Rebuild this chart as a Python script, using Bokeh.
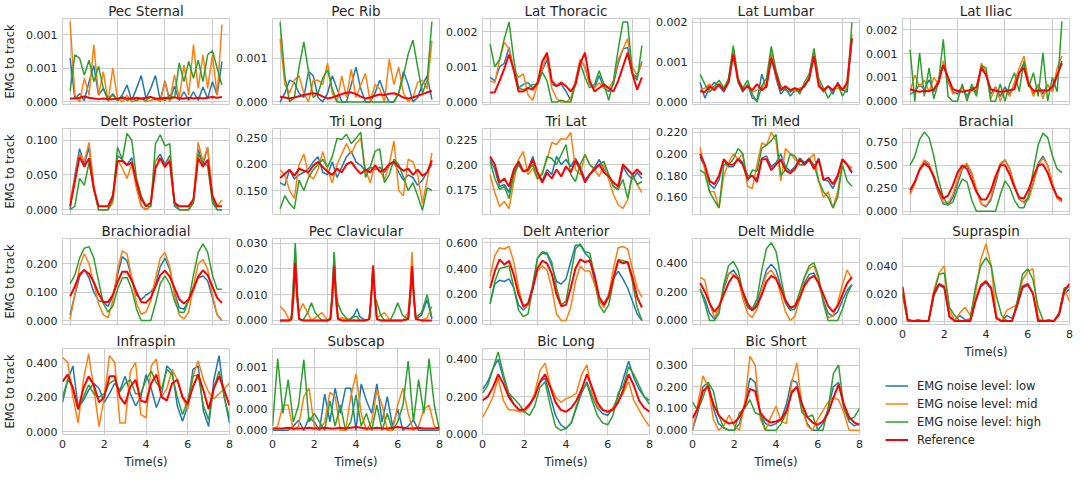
import numpy as np
from bokeh.plotting import figure
from bokeh.models import Range1d, FixedTicker, PrintfTickFormatter, Legend, LegendItem
from bokeh.layouts import row, column
from bokeh.embed import file_html
from bokeh.resources import INLINE

# ---------------- data ----------------
T = [0.0, 0.25, 0.5, 0.75, 1.0, 1.25, 1.5, 1.75, 2.0, 2.25, 2.5, 2.75, 3.0, 3.25, 3.5, 3.75,
     4.0, 4.25, 4.5, 4.75, 5.0, 5.25, 5.5, 5.75, 6.0, 6.25, 6.5, 6.75, 7.0, 7.25, 7.5, 7.75, 8.0]
T_PC = [0.0, 0.25, 0.5, 0.6, 0.7, 0.8, 0.9, 1.0, 1.2, 1.45, 1.65, 1.85, 2.2, 2.5, 2.65, 2.75,
        2.85, 2.95, 3.05, 3.25, 3.6, 3.9, 4.05, 4.2, 4.5, 4.7, 4.8, 4.9, 5.0, 5.1, 5.3, 5.5,
        5.8, 6.0, 6.2, 6.45, 6.75, 6.85, 6.95, 7.05, 7.15, 7.45, 7.75, 8.0]

# Pec Sternal (x1e-3)
pec_sternal_low = [0.65,0.05,0.12,0.02,0.30,0.54,0.10,0.20, 0.02,0.12,0.02,0.10,0.25,0.02,0.20,0.39, 0.05,0.20,0.39,0.02,0.31,0.02,0.23,0.02, 0.15,0.02,0.15,0.02,0.22,0.05,0.30,0.10, 0.60]
pec_sternal_mid = [1.19,0.10,0.00,0.35,0.10,0.85,0.10,0.45, 0.00,0.50,0.05,0.00,0.10,0.00,0.02,0.05, 0.00,0.02,0.05,0.00,0.30,0.00,0.40,0.05, 0.55,0.10,0.85,0.20,0.70,0.20,0.70,0.10, 1.15]
pec_sternal_high = [0.16,0.70,0.65,0.40,0.62,0.30,0.53,0.20, 0.05,0.10,0.02,0.08,0.02,0.05,0.02,0.05, 0.02,0.08,0.03,0.05,0.02,0.10,0.05,0.58, 0.30,0.60,0.35,0.62,0.30,0.70,0.76,0.50, 0.25]
pec_sternal_ref = [0.05,0.05,0.06,0.08,0.06,0.05,0.04,0.05, 0.04,0.04,0.05,0.06,0.05,0.05,0.06,0.05, 0.06,0.07,0.05,0.05,0.06,0.05,0.07,0.05, 0.05,0.06,0.05,0.06,0.05,0.06,0.07,0.06, 0.07]

# Pec Rib (x1e-3)
pec_rib_low = [0.00,0.20,0.50,0.45,0.20,0.10,0.70,0.60, 0.10,0.00,0.20,0.60,0.30,0.00,0.00,0.40, 0.80,0.30,0.00,0.00,0.20,0.50,0.20,0.00, 0.00,0.20,0.70,0.40,0.00,0.10,0.40,0.60, 0.05]
pec_rib_mid = [1.45,0.40,0.20,0.50,0.60,0.20,0.00,0.50, 0.50,0.40,0.90,0.20,0.00,0.60,0.10,0.75, 0.10,0.40,0.65,0.00,0.40,0.30,0.00,0.98, 0.40,0.80,0.20,0.00,0.10,0.45,0.50,0.30, 1.41]
pec_rib_high = [1.83,0.60,0.00,0.10,0.80,1.38,0.70,0.10, 0.20,0.55,0.74,0.30,0.00,0.00,0.00,0.00, 0.00,0.00,0.00,0.00,0.00,0.00,0.00,0.00, 0.00,0.20,0.60,1.10,1.42,0.80,0.20,0.50, 1.85]
pec_rib_ref = [0.12,0.10,0.08,0.10,0.13,0.16,0.18,0.20, 0.18,0.12,0.08,0.10,0.14,0.18,0.21,0.22, 0.18,0.12,0.08,0.10,0.14,0.17,0.16,0.19, 0.20,0.16,0.10,0.08,0.10,0.14,0.18,0.22, 0.25]

# Lat Thoracic (x1e-3)
lat_thoracic_low = [0.70,0.60,1.00,1.10,1.55,0.90,0.40,0.50, 0.55,0.40,0.50,0.90,1.20,0.50,0.45,0.50, 0.30,0.05,0.60,1.20,1.00,0.50,0.40,0.75, 0.40,0.30,0.50,1.10,1.50,1.55,0.80,0.70, 1.15]
lat_thoracic_mid = [0.60,0.55,1.20,1.70,1.50,0.90,0.70,0.80, 0.20,0.05,0.50,0.95,1.30,0.40,0.10,0.00, 0.00,0.10,0.60,1.20,1.00,0.50,0.40,0.55, 0.40,0.40,0.60,1.20,1.50,1.80,1.00,0.75, 1.10]
lat_thoracic_high = [1.64,1.00,1.20,1.80,2.27,1.20,0.40,0.35, 0.40,0.50,0.50,0.85,0.60,0.00,0.00,0.05, 0.00,0.00,0.50,1.10,0.70,0.40,0.50,0.89, 0.50,0.05,0.60,1.50,2.27,2.27,0.80,0.62, 1.60]
lat_thoracic_ref = [0.27,0.28,0.60,0.95,1.35,0.90,0.30,0.30, 0.40,0.35,0.55,1.15,1.40,0.60,0.45,0.55, 0.45,0.30,0.50,1.10,1.40,0.60,0.30,0.40, 0.50,0.40,0.30,0.60,1.00,1.40,0.80,0.35, 0.70]

# Lat Lumbar (x1e-3)
lat_lumbar_low = [0.50,0.10,0.35,0.50,0.40,0.25,0.50,1.30, 0.50,0.25,0.45,0.10,0.05,0.70,0.35,1.20, 0.60,0.20,0.35,0.15,0.30,0.25,0.45,0.55, 1.25,0.50,0.25,0.40,0.20,0.50,0.30,0.25, 1.60]
lat_lumbar_mid = [0.30,0.35,0.45,0.35,0.45,0.30,0.55,1.35, 0.55,0.35,0.40,0.25,0.30,0.35,0.50,1.30, 0.65,0.30,0.40,0.30,0.30,0.35,0.40,0.60, 1.30,0.45,0.30,0.40,0.30,0.35,0.30,0.40, 1.70]
lat_lumbar_high = [0.70,0.45,0.25,0.40,0.55,0.35,0.60,1.42, 0.60,0.35,0.55,0.20,0.00,0.40,0.60,1.40, 0.80,0.40,0.30,0.25,0.35,0.20,0.50,0.70, 1.35,0.60,0.35,0.10,0.30,0.45,0.15,0.35, 2.00]
lat_lumbar_ref = [0.28,0.25,0.40,0.30,0.45,0.30,0.50,1.20, 0.55,0.30,0.40,0.30,0.45,0.30,0.40,1.10, 0.70,0.30,0.40,0.30,0.35,0.30,0.40,0.60, 1.15,0.40,0.30,0.40,0.30,0.45,0.30,0.50, 1.60]

# Lat Iliac (x1e-3)
lat_iliac_low = [0.15,0.20,0.35,0.25,0.45,0.20,0.45,0.80, 0.40,0.20,0.15,0.30,0.10,0.30,0.20,0.75, 0.60,0.15,0.30,0.10,0.30,0.15,0.35,0.60, 0.80,0.40,0.15,0.35,0.15,0.35,0.20,0.55, 0.85]
lat_iliac_mid = [0.20,0.55,0.30,0.45,0.20,0.50,0.35,0.85, 0.45,0.15,0.20,0.30,0.05,0.25,0.15,0.80, 0.60,0.05,0.30,0.00,0.25,0.10,0.40,0.70, 0.95,0.40,0.10,0.35,0.05,0.35,0.20,0.70, 0.95]
lat_iliac_high = [1.08,0.00,1.02,0.10,0.70,0.05,0.40,1.30, 0.10,0.00,0.00,0.36,0.00,0.36,0.10,0.75, 0.70,0.00,0.00,0.36,0.00,0.36,0.60,0.20, 0.85,0.30,0.60,0.10,1.02,0.00,0.50,0.20, 1.68]
lat_iliac_ref = [0.25,0.22,0.20,0.22,0.21,0.25,0.40,0.76, 0.50,0.25,0.22,0.20,0.22,0.24,0.30,0.70, 0.55,0.25,0.22,0.20,0.21,0.23,0.25,0.60, 0.70,0.35,0.22,0.22,0.23,0.22,0.30,0.55, 0.80]

# Delt Posterior
delt_posterior_low = [0.000,0.050,0.088,0.065,0.090,0.030,0.000,0.000, 0.000,0.015,0.078,0.072,0.065,0.075,0.035,0.005, 0.000,0.005,0.070,0.080,0.065,0.078,0.005,0.000, 0.000,0.000,0.010,0.088,0.065,0.090,0.015,0.000, 0.000]
delt_posterior_mid = [0.014,0.045,0.080,0.070,0.097,0.035,0.000,0.000, 0.000,0.010,0.072,0.060,0.045,0.066,0.030,0.005, 0.000,0.005,0.070,0.075,0.060,0.075,0.010,0.000, 0.000,0.000,0.015,0.097,0.070,0.090,0.020,0.005, 0.014]
delt_posterior_high = [0.000,0.005,0.045,0.035,0.068,0.030,0.000,0.000, 0.000,0.015,0.090,0.072,0.110,0.100,0.045,0.020, 0.005,0.005,0.095,0.108,0.092,0.095,0.010,0.000, 0.000,0.000,0.010,0.080,0.068,0.063,0.010,0.000, 0.000]
delt_posterior_ref = [0.005,0.040,0.076,0.062,0.074,0.030,0.005,0.005, 0.005,0.020,0.070,0.070,0.064,0.068,0.040,0.015, 0.005,0.010,0.060,0.074,0.062,0.070,0.010,0.005, 0.005,0.005,0.015,0.074,0.062,0.072,0.020,0.005, 0.005]

# Tri Long
tri_long_low = [0.165,0.160,0.190,0.172,0.180,0.185,0.192,0.205, 0.215,0.185,0.180,0.205,0.175,0.195,0.215,0.225, 0.205,0.198,0.188,0.195,0.190,0.195,0.185,0.200, 0.205,0.185,0.170,0.180,0.175,0.160,0.170,0.185, 0.200]
tri_long_mid = [0.190,0.180,0.150,0.135,0.200,0.220,0.180,0.172, 0.190,0.225,0.190,0.165,0.200,0.220,0.240,0.220, 0.240,0.250,0.190,0.165,0.200,0.190,0.170,0.200, 0.245,0.150,0.140,0.210,0.205,0.180,0.125,0.170, 0.222]
tri_long_high = [0.115,0.140,0.125,0.115,0.170,0.150,0.175,0.190, 0.200,0.210,0.195,0.215,0.250,0.248,0.258,0.240, 0.250,0.262,0.175,0.195,0.225,0.230,0.165,0.180, 0.210,0.200,0.175,0.150,0.165,0.140,0.112,0.155, 0.150]
tri_long_ref = [0.174,0.182,0.190,0.178,0.192,0.188,0.185,0.198, 0.205,0.195,0.186,0.180,0.192,0.185,0.200,0.205, 0.192,0.182,0.190,0.185,0.198,0.186,0.190,0.200, 0.205,0.195,0.188,0.192,0.180,0.190,0.178,0.185, 0.208]

# Tri Lat
tri_lat_low = [0.205,0.195,0.178,0.180,0.172,0.192,0.200,0.193, 0.195,0.208,0.192,0.184,0.195,0.190,0.208,0.200, 0.205,0.198,0.206,0.198,0.185,0.190,0.197,0.205, 0.195,0.190,0.178,0.175,0.198,0.190,0.185,0.192, 0.186]
tri_lat_mid = [0.190,0.172,0.158,0.163,0.156,0.183,0.205,0.213, 0.190,0.196,0.185,0.192,0.205,0.222,0.220,0.226, 0.225,0.232,0.195,0.190,0.210,0.200,0.195,0.188, 0.200,0.185,0.170,0.160,0.156,0.165,0.190,0.180, 0.172]
tri_lat_high = [0.203,0.186,0.175,0.178,0.166,0.190,0.200,0.193, 0.194,0.200,0.186,0.190,0.208,0.206,0.200,0.210, 0.220,0.190,0.183,0.200,0.210,0.200,0.195,0.200, 0.203,0.190,0.178,0.175,0.185,0.166,0.190,0.180, 0.183]
tri_lat_ref = [0.208,0.200,0.182,0.186,0.178,0.195,0.203,0.193, 0.195,0.205,0.192,0.182,0.192,0.186,0.195,0.188, 0.198,0.192,0.204,0.195,0.182,0.190,0.195,0.200, 0.192,0.188,0.182,0.178,0.200,0.195,0.190,0.195, 0.190]

# Tri Med
tri_med_low = [0.197,0.188,0.172,0.168,0.176,0.194,0.188,0.188, 0.196,0.192,0.180,0.180,0.177,0.196,0.198,0.188, 0.192,0.200,0.188,0.184,0.188,0.196,0.192,0.196, 0.188,0.196,0.176,0.175,0.168,0.178,0.195,0.190, 0.182]
tri_med_mid = [0.206,0.185,0.165,0.165,0.150,0.180,0.192,0.200, 0.195,0.200,0.170,0.168,0.190,0.210,0.208,0.220, 0.212,0.175,0.205,0.200,0.195,0.190,0.190,0.195, 0.200,0.175,0.160,0.165,0.150,0.165,0.195,0.190, 0.187]
tri_med_high = [0.185,0.182,0.165,0.157,0.150,0.190,0.190,0.195, 0.205,0.200,0.175,0.185,0.184,0.205,0.208,0.212, 0.218,0.180,0.185,0.200,0.198,0.190,0.190,0.195, 0.190,0.175,0.165,0.160,0.150,0.160,0.190,0.175, 0.170]
tri_med_ref = [0.200,0.190,0.175,0.172,0.180,0.195,0.190,0.190, 0.195,0.190,0.177,0.180,0.174,0.195,0.195,0.185, 0.190,0.195,0.185,0.182,0.186,0.195,0.190,0.195, 0.186,0.195,0.176,0.178,0.172,0.180,0.195,0.190, 0.183]

# Brachial
brachial_low = [0.20,0.32,0.46,0.55,0.50,0.36,0.20,0.08, 0.07,0.15,0.30,0.46,0.50,0.40,0.22,0.08, 0.05,0.12,0.30,0.50,0.56,0.46,0.28,0.13, 0.10,0.15,0.32,0.52,0.60,0.50,0.30,0.15, 0.11]
brachial_mid = [0.18,0.30,0.46,0.56,0.52,0.38,0.22,0.10, 0.09,0.18,0.34,0.48,0.52,0.42,0.24,0.08, 0.06,0.14,0.34,0.52,0.56,0.46,0.28,0.14, 0.09,0.13,0.30,0.50,0.58,0.50,0.30,0.14, 0.10]
brachial_high = [0.50,0.60,0.78,0.86,0.80,0.60,0.34,0.15, 0.07,0.10,0.24,0.35,0.32,0.12,0.00,0.00, 0.00,0.00,0.00,0.18,0.33,0.26,0.12,0.04, 0.04,0.18,0.45,0.72,0.85,0.80,0.60,0.46, 0.42]
brachial_ref = [0.23,0.32,0.45,0.52,0.48,0.38,0.24,0.14, 0.17,0.28,0.42,0.50,0.46,0.34,0.21,0.13, 0.13,0.22,0.38,0.50,0.50,0.40,0.26,0.15, 0.14,0.24,0.38,0.50,0.51,0.42,0.27,0.16, 0.13]

# Brachioradial
brachioradial_low = [0.02,0.09,0.155,0.18,0.15,0.10,0.07,0.065, 0.05,0.085,0.16,0.225,0.21,0.15,0.09,0.073, 0.09,0.10,0.125,0.19,0.22,0.18,0.10,0.045, 0.04,0.07,0.12,0.15,0.157,0.14,0.08,0.02, 0.0]
brachioradial_mid = [0.005,0.09,0.19,0.235,0.20,0.13,0.06,0.02, 0.01,0.07,0.18,0.245,0.235,0.15,0.06,0.022, 0.03,0.07,0.15,0.22,0.24,0.19,0.09,0.02, 0.005,0.03,0.12,0.20,0.215,0.18,0.09,0.02, 0.0]
brachioradial_high = [0.13,0.16,0.22,0.255,0.26,0.22,0.14,0.06, 0.03,0.05,0.11,0.15,0.152,0.11,0.04,0.0, 0.0,0.0,0.06,0.13,0.157,0.13,0.07,0.03, 0.028,0.07,0.16,0.24,0.27,0.24,0.16,0.11, 0.11]
brachioradial_ref = [0.085,0.12,0.163,0.177,0.165,0.135,0.095,0.065, 0.065,0.09,0.135,0.172,0.172,0.14,0.10,0.065, 0.063,0.08,0.12,0.16,0.176,0.155,0.115,0.075, 0.06,0.075,0.11,0.155,0.177,0.16,0.12,0.08, 0.062]

# Pec Clavicular (x1e-2, on T_PC)
pec_clav_low = [0,0,0,0.1,1.4,2.8,1.0,0.05, 0,0,0,0,0,0, 0.05,1.0,2.6,0.9,0.1, 0,0,0.2,0.45,0.15,0, 0.05,0.8,2.15,0.8,0.05, 0,0,0,0,0,0, 0.05,0.8,2.1,0.8,0.05, 0.2,0.8,0.05]
pec_clav_mid = [0.55,0.35,0,0.05,0.8,2.3,0.8,0.3, 0.65,0.3,0,0.1,0.3,0, 0.05,0.8,2.05,0.6,0.05, 0.1,0.05,0,0,0,0, 0.05,0.8,2.1,0.7,0.1, 0.2,0.3,0,0,0,0, 0.3,1.2,2.65,1.0,0.1, 0,0.1,0.55]
pec_clav_high = [0,0,0,0.15,1.5,3.0,1.2,0.1, 0,0.3,0.68,0.3,0,0, 0.1,1.2,2.65,1.1,0.65, 0.3,0,0.15,0.15,0,0, 0.05,0.9,2.1,0.9,0.7, 0.2,0,0,0.3,0.68,0.2, 0.05,0.9,2.1,0.9,0.1, 0.3,1.0,0.1]
pec_clav_ref = [0,0,0,0.05,0.9,2.24,0.9,0.05, 0,0,0,0,0,0, 0.05,0.9,2.1,0.9,0.05, 0,0,0,0,0,0, 0.05,0.9,2.1,0.9,0.05, 0,0,0,0,0,0, 0.05,0.9,2.1,0.9,0.05, 0,0,0]

# Delt Anterior
delt_anterior_low = [0.13,0.28,0.31,0.30,0.32,0.25,0.12,0.08, 0.12,0.28,0.48,0.52,0.51,0.42,0.30,0.28, 0.32,0.45,0.58,0.58,0.52,0.48,0.30,0.15, 0.13,0.20,0.32,0.38,0.32,0.25,0.15,0.05, 0.00]
delt_anterior_mid = [0.34,0.50,0.56,0.55,0.57,0.45,0.25,0.10, 0.12,0.25,0.38,0.42,0.39,0.25,0.05,0.00, 0.00,0.10,0.30,0.42,0.38,0.38,0.28,0.15, 0.10,0.20,0.40,0.56,0.57,0.55,0.40,0.25, 0.18]
delt_anterior_high = [0.13,0.30,0.40,0.41,0.42,0.25,0.08,0.03, 0.05,0.25,0.48,0.53,0.52,0.45,0.25,0.12, 0.15,0.35,0.55,0.59,0.53,0.52,0.35,0.12, 0.06,0.12,0.30,0.47,0.46,0.45,0.30,0.10, 0.00]
delt_anterior_ref = [0.25,0.38,0.47,0.43,0.46,0.35,0.20,0.11, 0.13,0.25,0.40,0.46,0.44,0.36,0.20,0.11, 0.12,0.25,0.40,0.47,0.45,0.46,0.35,0.18, 0.12,0.18,0.33,0.46,0.44,0.45,0.33,0.18, 0.10]

# Delt Middle
delt_middle_low = [0.22,0.15,0.05,0.01,0.08,0.22,0.32,0.35, 0.30,0.18,0.09,0.07,0.12,0.24,0.35,0.39, 0.35,0.24,0.12,0.07,0.08,0.15,0.26,0.32, 0.33,0.25,0.14,0.05,0.03,0.06,0.14,0.21, 0.25]
delt_middle_mid = [0.30,0.28,0.12,0.02,0.08,0.25,0.33,0.32, 0.30,0.15,0.05,0.02,0.08,0.22,0.32,0.35, 0.30,0.18,0.06,0.00,0.03,0.15,0.30,0.36, 0.38,0.28,0.12,0.02,0.03,0.12,0.25,0.35, 0.29]
delt_middle_high = [0.22,0.12,0.00,0.00,0.05,0.25,0.38,0.41, 0.35,0.20,0.10,0.08,0.15,0.35,0.50,0.54, 0.48,0.30,0.14,0.08,0.10,0.20,0.30,0.38, 0.40,0.30,0.12,0.00,0.00,0.00,0.08,0.18, 0.25]
delt_middle_ref = [0.26,0.20,0.12,0.06,0.10,0.18,0.26,0.31, 0.29,0.20,0.12,0.07,0.10,0.18,0.27,0.31, 0.29,0.22,0.14,0.09,0.10,0.16,0.24,0.29, 0.31,0.26,0.18,0.10,0.06,0.10,0.18,0.26, 0.30]

# Supraspin
supraspin_low = [0.020,0.000,0.000,0.001,0.000,0.000,0.018,0.026, 0.024,0.003,0.001,0.004,0.001,0.000,0.014,0.025, 0.028,0.023,0.002,0.000,0.004,0.002,0.011,0.024, 0.026,0.020,0.000,0.000,0.001,0.000,0.004,0.020, 0.023]
supraspin_mid = [0.020,0.000,0.000,0.000,0.000,0.000,0.022,0.035, 0.040,0.008,0.000,0.006,0.010,0.004,0.020,0.045, 0.056,0.040,0.003,0.000,0.008,0.010,0.012,0.030, 0.036,0.038,0.002,0.000,0.000,0.000,0.005,0.024, 0.014]
supraspin_high = [0.020,0.000,0.000,0.000,0.000,0.000,0.020,0.034, 0.035,0.010,0.004,0.000,0.000,0.002,0.025,0.040, 0.046,0.040,0.018,0.004,0.000,0.000,0.015,0.034, 0.038,0.030,0.010,0.000,0.000,0.000,0.006,0.024, 0.025]
supraspin_ref = [0.025,0.001,0.000,0.000,0.000,0.000,0.020,0.027, 0.025,0.003,0.000,0.000,0.000,0.000,0.015,0.026, 0.029,0.024,0.002,0.000,0.000,0.000,0.012,0.025, 0.027,0.020,0.000,0.000,0.000,0.000,0.005,0.022, 0.027]

# Infraspin
infraspin_low = [0.17,0.30,0.38,0.14,0.18,0.24,0.28,0.25, 0.17,0.22,0.28,0.24,0.32,0.22,0.15,0.20, 0.33,0.25,0.14,0.22,0.38,0.35,0.15,0.06, 0.15,0.36,0.38,0.12,0.03,0.30,0.44,0.20, 0.05]
infraspin_mid = [0.43,0.40,0.20,0.05,0.30,0.45,0.25,0.03, 0.20,0.44,0.40,0.05,0.05,0.35,0.40,0.10, 0.08,0.38,0.42,0.20,0.25,0.36,0.30,0.20, 0.13,0.32,0.41,0.30,0.23,0.19,0.22,0.25, 0.28]
infraspin_high = [0.20,0.30,0.26,0.13,0.20,0.27,0.22,0.20, 0.22,0.28,0.30,0.23,0.28,0.30,0.22,0.22, 0.30,0.35,0.28,0.25,0.36,0.33,0.20,0.10, 0.18,0.32,0.33,0.15,0.07,0.25,0.35,0.20, 0.08]
infraspin_ref = [0.29,0.33,0.25,0.13,0.25,0.32,0.27,0.17, 0.20,0.32,0.32,0.20,0.16,0.26,0.30,0.18, 0.17,0.28,0.33,0.20,0.18,0.28,0.30,0.20, 0.16,0.26,0.33,0.24,0.13,0.25,0.32,0.24, 0.15]

# Subscap (x1e-3)
subscap_low = [0.00,0.00,0.00,0.00,0.05,0.12,0.00,0.15, 0.10,0.00,0.43,0.10,0.50,0.20,0.50,0.50, 0.00,0.55,0.35,0.20,0.55,0.10,0.40,0.05, 0.25,0.00,0.05,0.12,0.00,0.00,0.00,0.00, 0.00]
subscap_mid = [0.00,0.05,0.30,0.30,0.00,0.05,0.40,0.50, 0.05,0.00,0.10,0.45,0.40,0.00,0.00,0.40, 0.67,0.20,0.00,0.10,0.48,0.30,0.00,0.00, 0.30,0.50,0.20,0.00,0.05,0.25,0.30,0.05, 0.00]
subscap_high = [0.05,0.85,0.20,0.60,0.10,0.30,0.84,0.10, 0.20,0.10,0.00,0.35,0.05,0.30,0.00,0.10, 0.42,0.05,0.20,0.00,0.30,0.00,0.20,0.00, 0.10,0.30,0.82,0.10,0.60,0.20,0.85,0.30, 0.00]
subscap_ref = [0.02,0.02,0.02,0.03,0.02,0.02,0.02,0.03, 0.02,0.02,0.03,0.02,0.02,0.03,0.02,0.03, 0.04,0.03,0.02,0.02,0.03,0.02,0.02,0.03, 0.04,0.03,0.02,0.02,0.03,0.02,0.02,0.02, 0.03]

# Bic Long
bic_long_low = [0.24,0.28,0.35,0.40,0.30,0.22,0.16,0.13, 0.12,0.15,0.20,0.28,0.30,0.20,0.10,0.05, 0.03,0.06,0.14,0.22,0.28,0.20,0.14,0.11, 0.10,0.14,0.20,0.30,0.39,0.30,0.24,0.20, 0.18]
bic_long_mid = [0.09,0.14,0.20,0.30,0.18,0.13,0.13,0.12, 0.12,0.15,0.22,0.34,0.38,0.26,0.20,0.17, 0.19,0.20,0.22,0.32,0.37,0.22,0.15,0.13, 0.12,0.14,0.18,0.22,0.28,0.18,0.13,0.08, 0.04]
bic_long_high = [0.22,0.26,0.35,0.44,0.32,0.22,0.19,0.16, 0.12,0.10,0.15,0.25,0.28,0.15,0.04,0.02, 0.03,0.06,0.15,0.23,0.27,0.18,0.10,0.06, 0.05,0.10,0.22,0.26,0.36,0.32,0.26,0.20, 0.16]
bic_long_ref = [0.18,0.20,0.25,0.32,0.27,0.20,0.16,0.13, 0.13,0.16,0.20,0.28,0.32,0.25,0.17,0.13, 0.12,0.14,0.18,0.24,0.32,0.25,0.17,0.13, 0.12,0.13,0.17,0.24,0.32,0.26,0.18,0.14, 0.12]

# Bic Short
bic_short_low = [0.00,0.08,0.20,0.22,0.10,0.03,0.01,0.00, 0.00,0.03,0.12,0.24,0.22,0.07,0.03,0.02, 0.03,0.05,0.12,0.23,0.22,0.10,0.03,0.00, 0.00,0.03,0.10,0.20,0.22,0.10,0.04,0.02, 0.03]
bic_short_mid = [0.00,0.12,0.25,0.20,0.05,0.00,0.02,0.07, 0.02,0.00,0.12,0.34,0.30,0.05,0.00,0.06, 0.11,0.04,0.03,0.22,0.31,0.10,0.02,0.00, 0.05,0.09,0.13,0.15,0.14,0.08,0.00,0.00, 0.00]
bic_short_high = [0.13,0.09,0.15,0.22,0.18,0.07,0.01,0.00, 0.00,0.08,0.10,0.14,0.08,0.07,0.00,0.00, 0.00,0.03,0.08,0.18,0.20,0.08,0.06,0.07, 0.00,0.00,0.10,0.26,0.30,0.10,0.05,0.06, 0.10]
bic_short_ref = [0.055,0.10,0.18,0.20,0.12,0.07,0.045,0.03, 0.035,0.06,0.11,0.19,0.18,0.08,0.05,0.035, 0.04,0.05,0.09,0.17,0.20,0.12,0.06,0.035, 0.025,0.04,0.08,0.15,0.21,0.12,0.06,0.035, 0.025]

SERIES_LABELS = ["EMG noise level: low", "EMG noise level: mid", "EMG noise level: high", "Reference"]

# name, time, [low, mid, high, ref], scale, y-range, y-ticks, labelled x axis
PANELS = [
    [("Pec Sternal", T, [pec_sternal_low, pec_sternal_mid, pec_sternal_high, pec_sternal_ref], 1e-3, (-0.00004, 0.00124), [0, 0.0005, 0.001], False),
     ("Pec Rib", T, [pec_rib_low, pec_rib_mid, pec_rib_high, pec_rib_ref], 1e-3, (-0.00006, 0.00192), [0, 0.001], False),
     ("Lat Thoracic", T, [lat_thoracic_low, lat_thoracic_mid, lat_thoracic_high, lat_thoracic_ref], 1e-3, (-0.00007, 0.00237), [0, 0.001, 0.002], False),
     ("Lat Lumbar", T, [lat_lumbar_low, lat_lumbar_mid, lat_lumbar_high, lat_lumbar_ref], 1e-3, (-0.00006, 0.0021), [0, 0.001, 0.002], False),
     ("Lat Iliac", T, [lat_iliac_low, lat_iliac_mid, lat_iliac_high, lat_iliac_ref], 1e-3, (-0.00007, 0.00174), [0, 0.0005, 0.001, 0.0015], False)],
    [("Delt Posterior", T, [delt_posterior_low, delt_posterior_mid, delt_posterior_high, delt_posterior_ref], 1.0, (-0.007, 0.117), [0, 0.05, 0.1], False),
     ("Tri Long", T, [tri_long_low, tri_long_mid, tri_long_high, tri_long_ref], 1.0, (0.104, 0.269), [0.15, 0.2, 0.25], False),
     ("Tri Lat", T, [tri_lat_low, tri_lat_mid, tri_lat_high, tri_lat_ref], 1.0, (0.150, 0.236), [0.175, 0.2, 0.225], False),
     ("Tri Med", T, [tri_med_low, tri_med_mid, tri_med_high, tri_med_ref], 1.0, (0.144, 0.2234), [0.16, 0.18, 0.2, 0.22], False),
     ("Brachial", T, [brachial_low, brachial_mid, brachial_high, brachial_ref], 1.0, (-0.034, 0.899), [0, 0.25, 0.5, 0.75], False)],
    [("Brachioradial", T, [brachioradial_low, brachioradial_mid, brachioradial_high, brachioradial_ref], 1.0, (-0.014, 0.289), [0, 0.1, 0.2], False),
     ("Pec Clavicular", T_PC, [pec_clav_low, pec_clav_mid, pec_clav_high, pec_clav_ref], 1e-2, (-0.0016, 0.0318), [0, 0.01, 0.02, 0.03], False),
     ("Delt Anterior", T, [delt_anterior_low, delt_anterior_mid, delt_anterior_high, delt_anterior_ref], 1.0, (-0.031, 0.631), [0, 0.2, 0.4, 0.6], False),
     ("Delt Middle", T, [delt_middle_low, delt_middle_mid, delt_middle_high, delt_middle_ref], 1.0, (-0.028, 0.569), [0, 0.2, 0.4], False),
     ("Supraspin", T, [supraspin_low, supraspin_mid, supraspin_high, supraspin_ref], 1.0, (-0.0025, 0.060), [0, 0.02, 0.04], True)],
    [("Infraspin", T, [infraspin_low, infraspin_mid, infraspin_high, infraspin_ref], 1.0, (-0.016, 0.481), [0, 0.2, 0.4], True),
     ("Subscap", T, [subscap_low, subscap_mid, subscap_high, subscap_ref], 1e-3, (-0.00005, 0.00097), [0, 0.00025, 0.0005, 0.00075], True),
     ("Bic Long", T, [bic_long_low, bic_long_mid, bic_long_high, bic_long_ref], 1.0, (-0.002, 0.458), [0, 0.2, 0.4], True),
     ("Bic Short", T, [bic_short_low, bic_short_mid, bic_short_high, bic_short_ref], 1.0, (-0.02, 0.376), [0, 0.1, 0.2, 0.3], True)],
]

# ---------------- styling ----------------
COLORS = ["#1f77b4", "#ff7f0e", "#2ca02c", "#ff0000"]
WIDTHS = [1.5, 1.5, 1.5, 2.0]
TXT = "#262626"
GRID = "#cccccc"
FONT = "DejaVu Sans"
FW, FH = 167, 86
ML0, ML, MR = 58, 38, 4
MT, MB, MBX = 17, 6, 38


def make_panel(spec, col):
    name, t, series, scale, yr, yticks, labelled = spec
    xr = Range1d(0, 8) if labelled else Range1d(-0.4, 8.4)
    p = figure(title=name, frame_width=FW, frame_height=FH, output_backend="svg",
               toolbar_location=None, x_range=xr, y_range=Range1d(*yr),
               min_border_left=ML0 if col == 0 else ML, min_border_right=MR,
               min_border_top=MT, min_border_bottom=MBX if labelled else MB,
               background_fill_color="white", border_fill_color="white")
    p.title.align = "center"
    p.title.text_font = FONT
    p.title.text_font_size = "13.5px"
    p.title.text_font_style = "normal"
    p.title.text_color = TXT
    p.title.standoff = 0
    p.outline_line_color = GRID
    p.outline_line_width = 1
    p.grid.grid_line_color = GRID
    p.grid.grid_line_width = 1
    for i, ys in enumerate(series):
        n = min(len(t), len(ys))
        p.line(np.array(t[:n]), np.array(ys[:n]) * scale,
               line_color=COLORS[i], line_width=WIDTHS[i])
    p.yaxis.ticker = FixedTicker(ticks=yticks)
    p.yaxis.formatter = PrintfTickFormatter(format="%.3f")
    for ax in p.axis:
        ax.major_tick_line_color = None
        ax.minor_tick_line_color = None
        ax.major_tick_out = 0
        ax.major_tick_in = 0
        ax.minor_tick_out = 0
        ax.minor_tick_in = 0
        ax.axis_line_color = None
        ax.major_label_text_font = FONT
        ax.major_label_text_font_size = "11px"
        ax.major_label_text_color = TXT
        ax.axis_label_text_font = FONT
        ax.axis_label_text_font_size = "11.5px"
        ax.axis_label_text_font_style = "normal"
        ax.axis_label_text_color = TXT
    p.yaxis.major_label_standoff = 5
    if col == 0:
        p.yaxis.axis_label = "EMG to track"
        p.yaxis.axis_label_standoff = 6
    if labelled:
        p.xaxis.ticker = FixedTicker(ticks=[0, 2, 4, 6, 8])
        p.xaxis.major_label_standoff = 5
        p.xaxis.axis_label = "Time(s)"
        p.xaxis.axis_label_standoff = 4
    else:
        p.xaxis.visible = False
        p.xgrid.ticker = FixedTicker(ticks=[0, 2.5, 5, 7.5])
    return p


figs = [[make_panel(spec, c) for c, spec in enumerate(r)] for r in PANELS]

# legend cell (row 4, column 5): the legend's renderers draw real series, kept out of view
LEG_H = 109
lg = figure(title=None, frame_width=ML + FW + MR, frame_height=LEG_H, output_backend="svg",
            toolbar_location=None, x_range=Range1d(0, 8), y_range=Range1d(10, 11),
            min_border_left=0, min_border_right=0, min_border_top=0, min_border_bottom=0,
            background_fill_color="white", border_fill_color="white")
lg.axis.visible = False
lg.grid.visible = False
lg.outline_line_color = None
items = []
for i, lab in enumerate(SERIES_LABELS):
    r = lg.line(T, brachial_ref if i == 3 else [brachial_low, brachial_mid, brachial_high][i],
                line_color=COLORS[i], line_width=WIDTHS[i])
    items.append(LegendItem(label=lab, renderers=[r]))
leg = Legend(items=items, location=(22, 23), orientation="vertical",
             border_line_color=None, background_fill_alpha=0,
             label_text_font=FONT, label_text_font_size="11.5px", label_text_color=TXT,
             glyph_width=23, glyph_height=17, label_height=17, label_standoff=9,
             spacing=1, padding=0, margin=0)
lg.add_layout(leg)

cols = [column(*[figs[r][c] for r in range(4)]) for c in range(4)]
cols.append(column(figs[0][4], figs[1][4], figs[2][4], lg))
layout = row(*cols)

open("out.html", "w").write(file_html(layout, INLINE, "EMG to track"))
